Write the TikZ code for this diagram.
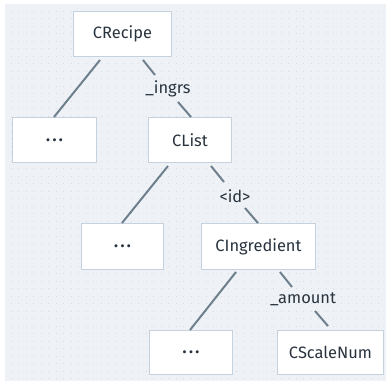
\documentclass[tikz,border=0pt]{standalone}
\usepackage{fontspec}
\setmainfont{Fira Sans}
\definecolor{bgc}{HTML}{EEF2F6}
\definecolor{dotc}{HTML}{D6DCE2}
\definecolor{edgec}{HTML}{6E7F8D}
\definecolor{boxc}{HTML}{C5D2DD}
\definecolor{txtc}{HTML}{28333E}
\newcommand\mydots{\raisebox{-2bp}{\bfseries.\kern2.5bp.\kern2.5bp.}}
\begin{document}
\begin{tikzpicture}[x=1bp,y=-1bp,
  box/.style={draw=boxc,line width=1bp,fill=white,inner sep=0pt,anchor=north west,text=txtc,font=\fontsize{16.5}{18}\selectfont},
  edge/.style={draw=edgec,line width=2bp},
  lab/.style={text=txtc,font=\fontsize{16.5}{18}\selectfont,inner sep=1pt}]
\useasboundingbox (0,0) rectangle (386,381);
\fill[bgc] (5,4) rectangle (386,381);
\foreach \i in {0,...,50}{\foreach \j in {0,...,50}{
  \pgfmathsetmacro\xx{11+7.5*\i}\pgfmathsetmacro\yy{11+7.5*\j}
  \ifdim\xx pt<386pt\ifdim\yy pt<381pt
  \fill[dotc] (\xx-0.5,\yy-0.5) rectangle (\xx+0.5,\yy+0.5);\fi\fi}}
\node[box,minimum width=98bp,minimum height=45bp] (rec) at (73,11) {CRecipe};
\node[box,minimum width=84bp,minimum height=45bp] (d1) at (12,117) {\mydots};
\node[box,minimum width=83bp,minimum height=45bp] (lst) at (148,117) {CList};
\node[box,minimum width=82bp,minimum height=46bp] (d2) at (81,223) {\mydots};
\node[box,minimum width=114bp,minimum height=46bp] (ing) at (201,223) {CIngredient};
\node[box,minimum width=83bp,minimum height=44bp] (d3) at (149,330) {\mydots};
\node[box,minimum width=106bp,minimum height=44bp] (sn) at (277,330) {CScaleNum};
\coordinate (a1) at (100,60); \coordinate (b1) at (54,117);
\draw[edge] (a1) -- (b1);
\node[lab] (l1) at (168,89) {\_ingrs};
\coordinate (a2) at (143,60); \coordinate (c2) at (155,75);
\coordinate (e2) at (178,102); \coordinate (b2) at (191,117);
\draw[edge] (a2) -- (c2);
\draw[edge] (e2) -- (b2);
\coordinate (a3) at (168,166); \coordinate (b3) at (122,223);
\draw[edge] (a3) -- (b3);
\node[lab] (l2) at (235,196) {<id>};
\coordinate (a4) at (211,166); \coordinate (c4) at (224,182);
\coordinate (e4) at (245,208); \coordinate (b4) at (258,223);
\draw[edge] (a4) -- (c4);
\draw[edge] (e4) -- (b4);
\coordinate (a5) at (236,272); \coordinate (b5) at (190,330);
\draw[edge] (a5) -- (b5);
\node[lab] (l3) at (303,299) {\_amount};
\coordinate (a6) at (280,272); \coordinate (c6) at (292,287);
\coordinate (e6) at (315,311); \coordinate (b6) at (328,326);
\draw[edge] (a6) -- (c6);
\draw[edge] (e6) -- (b6);
\end{tikzpicture}
\end{document}
